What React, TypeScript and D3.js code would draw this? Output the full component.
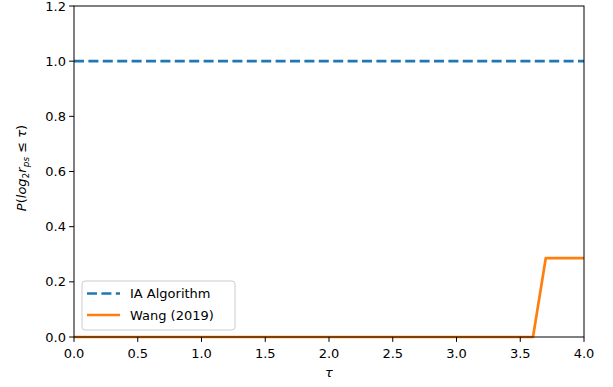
import React from "react";
import * as d3 from "d3";

// performance profile data
const tauIA = [0.0, 4.0];
const valuesIA = [1.0, 1.0];
const tauWang = [0.0, 3.6, 3.7, 4.0];
const valuesWang = [0.0, 0.0, 0.2857, 0.2857];
const xTicks = [0, 0.5, 1.0, 1.5, 2.0, 2.5, 3.0, 3.5, 4.0];
const yTicks = [0, 0.2, 0.4, 0.6, 0.8, 1.0, 1.2];
const seriesNames = ["IA Algorithm", "Wang (2019)"];

export default function App() {
  const width = 613;
  const height = 387;
  const margin = { top: 6, right: 29, bottom: 50, left: 74 };
  const font = "DejaVu Sans, sans-serif";

  const xScale = d3
    .scaleLinear()
    .domain([0, 4])
    .range([margin.left, width - margin.right]);
  const yScale = d3
    .scaleLinear()
    .domain([0, 1.2])
    .range([height - margin.bottom, margin.top]);

  const line = d3
    .line<[number, number]>()
    .x((d) => xScale(d[0]))
    .y((d) => yScale(d[1]));

  const iaPts = tauIA.map((t, i) => [t, valuesIA[i]] as [number, number]);
  const wangPts = tauWang.map((t, i) => [t, valuesWang[i]] as [number, number]);

  const x0 = margin.left;
  const x1 = width - margin.right;
  const y0 = height - margin.bottom;
  const y1 = margin.top;

  return (
    <svg
      width={width}
      height={height}
      style={{ position: "absolute", left: 0, top: 0 }}
      fontFamily={font}
    >
      <rect x={0} y={0} width={width} height={height} fill="#fff" />

      {/* lines */}
      <path
        d={line(iaPts) || ""}
        fill="none"
        stroke="#1f77b4"
        strokeWidth={2.7}
        strokeDasharray="10,4.4"
      />
      <path
        d={line(wangPts) || ""}
        fill="none"
        stroke="#ff7f0e"
        strokeWidth={2.7}
        strokeLinejoin="round"
      />

      {/* frame */}
      <rect x={x0} y={y1} width={x1 - x0} height={y0 - y1} fill="none" stroke="#000" strokeWidth={1} />

      {/* x ticks */}
      {xTicks.map((t) => (
        <g key={"x" + t}>
          <line x1={xScale(t)} x2={xScale(t)} y1={y0} y2={y0 + 4.9} stroke="#000" />
          <text x={xScale(t)} y={y0 + 21} textAnchor="middle" fontSize={13} fill="#000">
            {t.toFixed(1)}
          </text>
        </g>
      ))}

      {/* y ticks */}
      {yTicks.map((t) => (
        <g key={"y" + t}>
          <line x1={x0 - 4.9} x2={x0} y1={yScale(t)} y2={yScale(t)} stroke="#000" />
          <text
            x={x0 - 8}
            y={yScale(t)}
            textAnchor="end"
            dominantBaseline="central"
            fontSize={13}
            fill="#000"
          >
            {t.toFixed(1)}
          </text>
        </g>
      ))}

      {/* axis labels */}
      <text x={(x0 + x1) / 2} y={377} textAnchor="middle" fontSize={13} fontStyle="italic" fill="#000">
        τ
      </text>
      <text
        transform={`translate(26,168) rotate(-90)`}
        textAnchor="middle"
        fontSize={13}
        fill="#000"
      >
        <tspan fontStyle="italic">P</tspan>
        <tspan>(</tspan>
        <tspan fontStyle="italic">log</tspan>
        <tspan fontSize={9} dy={3}>2</tspan>
        <tspan fontStyle="italic" dy={-3}>r</tspan>
        <tspan fontSize={9} fontStyle="italic" dy={3}>ps</tspan>
        <tspan dy={-3}> ≤ </tspan>
        <tspan fontStyle="italic">τ</tspan>
        <tspan>)</tspan>
      </text>

      {/* legend */}
      <g>
        <rect
          x={82}
          y={281}
          width={153}
          height={49}
          rx={3}
          fill="#fff"
          fillOpacity={0.8}
          stroke="#ccc"
        />
        {seriesNames.map((name, i) => {
          const ly = 293.5 + i * 21.5;
          return (
            <g key={name}>
              <line
                x1={87}
                x2={120}
                y1={ly}
                y2={ly}
                stroke={i === 0 ? "#1f77b4" : "#ff7f0e"}
                strokeWidth={2.7}
                strokeDasharray={i === 0 ? "10,4.4" : undefined}
              />
              <text x={130} y={ly} dominantBaseline="central" fontSize={13} fill="#000">
                {name}
              </text>
            </g>
          );
        })}
      </g>
    </svg>
  );
}
